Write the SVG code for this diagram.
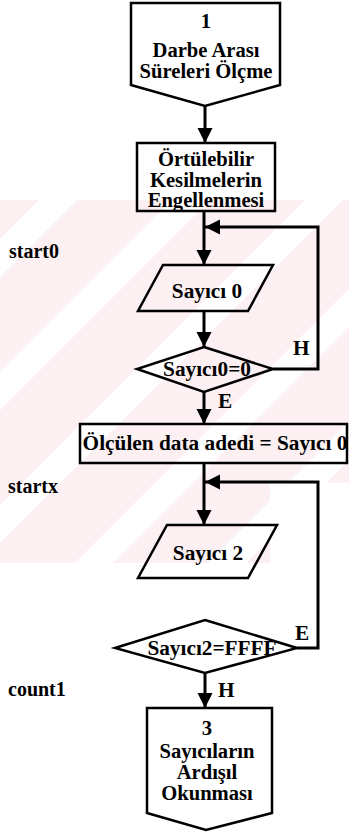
<svg xmlns="http://www.w3.org/2000/svg" width="349" height="832" viewBox="0 0 349 832">
<style>
.s{fill:none;stroke:#000;stroke-width:2.5;stroke-linejoin:miter}
.c{fill:none;stroke:#000;stroke-width:3}
.t{font-family:'Liberation Serif','DejaVu Serif',serif;font-weight:bold;font-size:21.3px;fill:#000}
.m{text-anchor:middle}
.l{font-size:20px}
.b{font-size:20.6px}
</style>
<defs>
<pattern id="wm" patternUnits="userSpaceOnUse" width="94" height="10" patternTransform="rotate(45)">
<rect x="0" y="0" width="94" height="10" fill="#fff"/>
<rect x="8" y="0" width="67" height="10" fill="#fdf0f2"/>
</pattern>
<marker id="ah" markerUnits="userSpaceOnUse" markerWidth="16" markerHeight="16" refX="15" refY="7.5" orient="auto">
<path d="M0,0 L15,7.5 L0,15 Z" fill="#000"/>
</marker>
</defs>
<rect width="349" height="832" fill="#fff"/>
<path d="M0,200 H349 V483 H270 V563 H0 Z" fill="url(#wm)"/>

<g id="connectors" class="t">
<path class="c" d="M205,106 V143" marker-end="url(#ah)"/>
<path class="c" d="M204,211 V265" marker-end="url(#ah)"/>
<path class="c" d="M204,311 V347" marker-end="url(#ah)"/>
<path class="c" d="M273,369 H318 V227 H205" marker-end="url(#ah)"/>
<path class="c" d="M204,392 V424" marker-end="url(#ah)"/>
<path class="c" d="M204,463 V525" marker-end="url(#ah)"/>
<path class="c" d="M297,648 H318 V482 H205" marker-end="url(#ah)"/>
<path class="c" d="M205,673 V708" marker-end="url(#ah)"/>
<text x="293" y="355">H</text>
<text x="218" y="408">E</text>
<text x="295" y="640">E</text>
<text x="218" y="697">H</text>
</g>

<g id="n1" class="t b">
<path class="s" d="M131,3 H280 V85 L205,106 L131,85 Z"/>
<text class="m" x="206" y="28">1</text>
<text class="m" x="206" y="57">Darbe Arası</text>
<text class="m" x="206" y="78">Süreleri Ölçme</text>
</g>

<g id="n2" class="t b">
<rect class="s" x="137" y="143" width="138" height="68"/>
<text class="m" x="206" y="166">Örtülebilir</text>
<text class="m" x="206" y="187">Kesilmelerin</text>
<text class="m" x="206" y="207">Engellenmesi</text>
</g>

<g id="n3" class="t">
<path class="s" d="M163,265 H273 L248,311 H138 Z"/>
<text class="m" x="207" y="298">Sayıcı 0</text>
</g>

<g id="n4" class="t">
<path class="s" d="M204,347 L273,369 L204,392 L137,369 Z"/>
<text class="m" x="207" y="376">Sayıcı0=0</text>
</g>

<g id="n5" class="t">
<rect class="s" x="80" y="424" width="267" height="39"/>
<text class="m" x="215" y="450">Ölçülen data adedi = Sayıcı 0</text>
</g>

<g id="n6" class="t">
<path class="s" d="M167,525 H277 L248,578 H138 Z"/>
<text class="m" x="208" y="560">Sayıcı 2</text>
</g>

<g id="n7" class="t">
<path class="s" d="M205,620 L297,648 L205,673 L115,648 Z"/>
<text class="m" x="212" y="655">Sayıcı2=FFFF</text>
</g>

<g id="n8" class="t b">
<path class="s" d="M147,708 H272 V813 L206,830 L147,813 Z"/>
<text class="m" x="207" y="735">3</text>
<text class="m" x="207" y="758">Sayıcıların</text>
<text class="m" x="207" y="779">Ardışıl</text>
<text class="m" x="207" y="800">Okunması</text>
</g>

<g id="labels" class="t l">
<text x="9" y="258">start0</text>
<text x="8" y="493">startx</text>
<text x="8" y="696">count1</text>
</g>
</svg>
